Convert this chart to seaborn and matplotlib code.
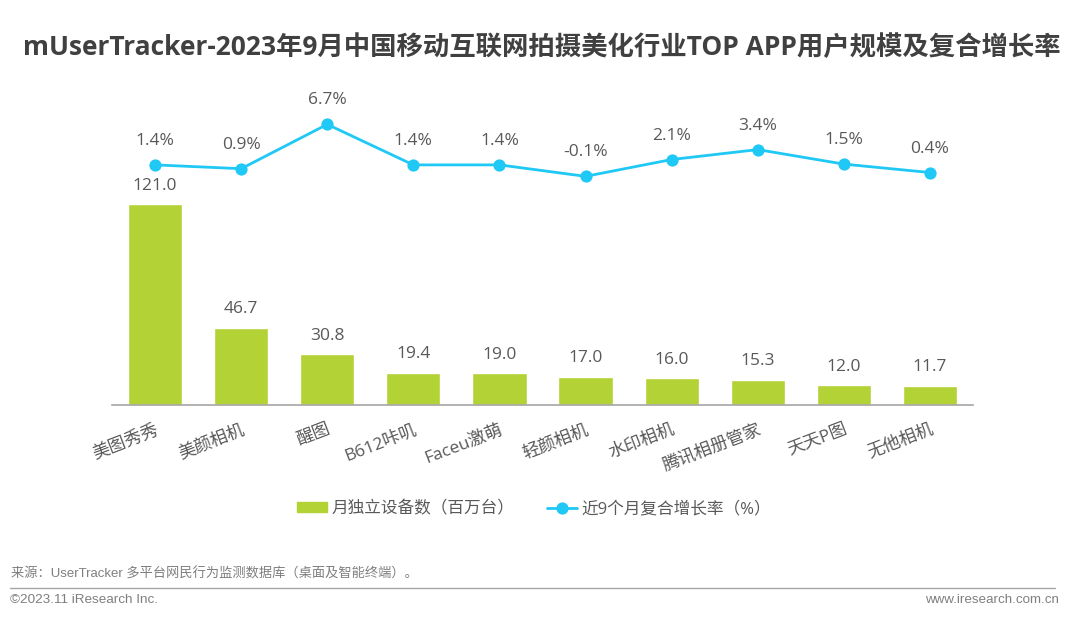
import matplotlib
matplotlib.use("Agg")
import matplotlib.pyplot as plt
import pandas as pd
import seaborn as sns
from matplotlib.lines import Line2D
from matplotlib.patches import Patch

apps = ["美图秀秀", "美颜相机", "醒图", "B612咔叽", "Faceu激萌", "轻颜相机", "水印相机", "腾讯相册管家", "天天P图", "无他相机"]
devices = [121.0, 46.7, 30.8, 19.4, 19.0, 17.0, 16.0, 15.3, 12.0, 11.7]
growth = [1.4, 0.9, 6.7, 1.4, 1.4, -0.1, 2.1, 3.4, 1.5, 0.4]

title = "mUserTracker-2023年9月中国移动互联网拍摄美化行业TOP APP用户规模及复合增长率"
bar_label = "月独立设备数（百万台）"
line_label = "近9个月复合增长率（%）"
source = "来源：UserTracker 多平台网民行为监测数据库（桌面及智能终端）。"
copyright_text = "©2023.11 iResearch Inc."
site = "www.iresearch.com.cn"

GREEN = "#b2d235"
BLUE = "#1fc8f5"
GREY = "#595959"
W, H = 1080, 620

sns.set_theme(style="white")
plt.rcParams["font.family"] = ["Open Sans", "Noto Sans CJK SC", "DejaVu Sans"]

df = pd.DataFrame({"app": apps, "devices": devices, "growth": growth})

fig = plt.figure(figsize=(W / 100, H / 100), dpi=100, facecolor="white")
ax = fig.add_axes([112 / W, 1 - 405 / H, 861 / W, 325 / H])

sns.barplot(data=df, x="app", y="devices", color=GREEN, saturation=1, width=0.63, ax=ax)
ax.set_xlim(-0.5, 9.5)
ax.set_ylim(0, 196.0)
ax.set_xlabel("")
ax.set_ylabel("")
ax.set_yticks([])
ax.tick_params(axis="x", length=0, pad=12)
ax.set_xticks(range(len(apps)))
ax.set_xticklabels(apps, rotation=21, ha="right", rotation_mode="anchor", fontsize=12.5, color=GREY)
sns.despine(ax=ax, left=True)
ax.spines["bottom"].set_color("#a6a6a6")
ax.spines["bottom"].set_linewidth(1.2)

for i, v in enumerate(devices):
    ax.annotate(f"{v:.1f}", (i, v), xytext=(0, 7.5), textcoords="offset points", ha="center", va="bottom", fontsize=12.5, color=GREY)

ax2 = ax.twinx()
sns.lineplot(data=df, x="app", y="growth", color=BLUE, linewidth=2, marker="o", markersize=8.8, markeredgewidth=0, sort=False, ax=ax2)
ax2.set_ylim(-30.0, 12.5)
ax2.set_xlabel("")
ax2.set_ylabel("")
ax2.set_yticks([])
ax2.patch.set_visible(False)
for s in ax2.spines.values():
    s.set_visible(False)

for i, v in enumerate(growth):
    ax2.annotate(f"{v:.1f}%", (i, v), xytext=(0, 11.5), textcoords="offset points", ha="center", va="bottom", fontsize=12.5, color=GREY)

handles = [Patch(color=GREEN), Line2D([], [], color=BLUE, linewidth=2, marker="o", markersize=8.8, markeredgewidth=0)]
fig.legend(handles, [bar_label, line_label], loc="center", bbox_to_anchor=(534 / W, 1 - 509 / H), ncol=2, frameon=False,
           fontsize=12, labelcolor=GREY, handlelength=1.8, handleheight=0.55, handletextpad=0.25, columnspacing=2.0)

fig.text(542 / W, 1 - 47 / H, title, ha="center", va="center", fontsize=19, fontweight="bold", color="#404040")
fig.text(11 / W, 1 - 574 / H, source, ha="left", va="center", fontsize=9.5, color="#7f7f7f", family=["Liberation Sans", "Noto Sans CJK SC"])
fig.add_artist(Line2D([10 / W, 1055 / W], [1 - 588 / H, 1 - 588 / H], color="#a6a6a6", linewidth=1))
fig.text(10 / W, 1 - 600 / H, copyright_text, ha="left", va="center", fontsize=9.7, color="#7f7f7f", family="Liberation Sans")
fig.text(1059 / W, 1 - 600 / H, site, ha="right", va="center", fontsize=9.6, color="#7f7f7f", family="Liberation Sans")

fig.savefig("out.png", dpi=100)
